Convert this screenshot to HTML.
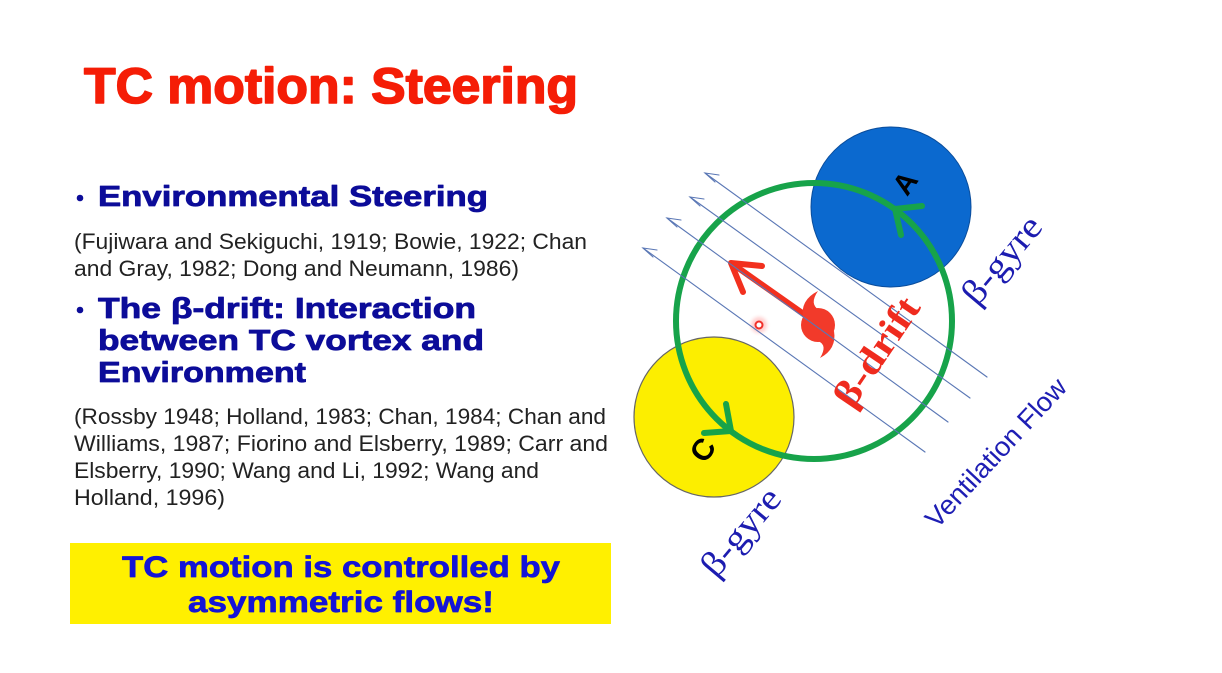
<!DOCTYPE html>
<html>
<head>
<meta charset="utf-8">
<style>
  html,body{margin:0;padding:0;background:#fff;}
  svg{display:block;}
  .sans{font-family:"Liberation Sans", Arial, sans-serif;}
  .serif{font-family:"Liberation Serif", "Times New Roman", serif;}
</style>
</head>
<body>
<svg width="1222" height="673" viewBox="0 0 1222 673" xmlns="http://www.w3.org/2000/svg">
  <defs>
    <radialGradient id="glow" cx="50%" cy="50%" r="50%">
      <stop offset="0%" stop-color="#ff5a5a" stop-opacity="0.55"/>
      <stop offset="60%" stop-color="#ff8080" stop-opacity="0.25"/>
      <stop offset="100%" stop-color="#ffffff" stop-opacity="0"/>
    </radialGradient>
  </defs>
  <rect width="1222" height="673" fill="#ffffff"/>

  <!-- Title -->
  <text class="sans" x="84" y="103" font-size="50" font-weight="bold" fill="#f51d06" stroke="#f51d06" stroke-width="1.6" stroke-linejoin="round" textLength="494" lengthAdjust="spacingAndGlyphs">TC motion: Steering</text>

  <!-- Bullet 1 -->
  <circle cx="80" cy="198" r="3.3" fill="#0c0c99"/>
  <text class="sans" x="98" y="206" font-size="29" font-weight="bold" fill="#0c0c99" stroke="#0c0c99" stroke-width="0.8" stroke-linejoin="round" textLength="390" lengthAdjust="spacingAndGlyphs">Environmental Steering</text>

  <text class="sans" x="74" y="249" font-size="22" fill="#222" textLength="513" lengthAdjust="spacingAndGlyphs">(Fujiwara and Sekiguchi, 1919; Bowie, 1922; Chan</text>
  <text class="sans" x="74" y="276" font-size="22" fill="#222" textLength="445" lengthAdjust="spacingAndGlyphs">and Gray, 1982; Dong and Neumann, 1986)</text>

  <!-- Bullet 2 -->
  <circle cx="80" cy="310" r="3.3" fill="#0c0c99"/>
  <text class="sans" x="98" y="318" font-size="29" font-weight="bold" fill="#0c0c99" stroke="#0c0c99" stroke-width="0.8" stroke-linejoin="round" textLength="378" lengthAdjust="spacingAndGlyphs">The β-drift: Interaction</text>
  <text class="sans" x="98" y="350" font-size="29" font-weight="bold" fill="#0c0c99" stroke="#0c0c99" stroke-width="0.8" stroke-linejoin="round" textLength="386" lengthAdjust="spacingAndGlyphs">between TC vortex and</text>
  <text class="sans" x="98" y="382" font-size="29" font-weight="bold" fill="#0c0c99" stroke="#0c0c99" stroke-width="0.8" stroke-linejoin="round" textLength="208" lengthAdjust="spacingAndGlyphs">Environment</text>

  <text class="sans" x="74" y="424" font-size="22" fill="#222" textLength="532" lengthAdjust="spacingAndGlyphs">(Rossby 1948; Holland, 1983; Chan, 1984; Chan and</text>
  <text class="sans" x="74" y="451" font-size="22" fill="#222" textLength="534" lengthAdjust="spacingAndGlyphs">Williams, 1987; Fiorino and Elsberry, 1989; Carr and</text>
  <text class="sans" x="74" y="478" font-size="22" fill="#222" textLength="465" lengthAdjust="spacingAndGlyphs">Elsberry, 1990; Wang and Li, 1992; Wang and</text>
  <text class="sans" x="74" y="505" font-size="22" fill="#222" textLength="151" lengthAdjust="spacingAndGlyphs">Holland, 1996)</text>

  <!-- Yellow box -->
  <rect x="70" y="543" width="541" height="81" fill="#fff000"/>
  <text class="sans" x="122" y="577" font-size="30" font-weight="bold" fill="#1414d6" stroke="#1414d6" stroke-width="0.7" stroke-linejoin="round" textLength="438" lengthAdjust="spacingAndGlyphs">TC motion is controlled by</text>
  <text class="sans" x="188" y="612" font-size="30" font-weight="bold" fill="#1414d6" stroke="#1414d6" stroke-width="0.7" stroke-linejoin="round" textLength="306" lengthAdjust="spacingAndGlyphs">asymmetric flows!</text>

  <!-- Diagram: gyres -->
  <circle cx="891" cy="207" r="80" fill="#0b69cf" stroke="#0a4d9c" stroke-width="1"/>
  <circle cx="714" cy="417" r="80" fill="#fcee00" stroke="#666" stroke-width="1.2"/>

  <text class="sans" transform="translate(905,183) rotate(-55)" x="0" y="10" text-anchor="middle" font-size="29" font-weight="bold" fill="#000">A</text>
  <text class="sans" transform="translate(703,450) rotate(-55)" x="0" y="10" text-anchor="middle" font-size="30" font-weight="bold" fill="#000">C</text>

  <!-- Red beta drift arrow and TC symbol -->
  <circle cx="759" cy="325" r="12" fill="url(#glow)"/>
  <circle cx="759" cy="325" r="3.5" fill="#fff" stroke="#f0302a" stroke-width="2"/>

  <g stroke="#f2301e" stroke-width="6" stroke-linecap="round" stroke-linejoin="round" fill="none">
    <line x1="815" y1="322" x2="734" y2="265"/>
    <polyline points="762,266 731,263 743,292"/>
  </g>
  <circle cx="818" cy="325" r="17" fill="#f23a2a"/>
  <path d="M803 318 Q800 300 818 291 Q809 304 819 310 Z" fill="#f23a2a"/>
  <path d="M834 331 Q837 349 820 358 Q828 345 818 341 Z" fill="#f23a2a"/>

  <!-- Green circulation -->
  <circle cx="814" cy="321" r="138" fill="none" stroke="#17a34a" stroke-width="6"/>
  <g stroke="#17a34a" stroke-width="6" stroke-linecap="round" stroke-linejoin="round" fill="none">
    <polyline points="922,206 895,209 901,235"/>
    <polyline points="726,404 731,431 704,433"/>
  </g>

  <!-- Ventilation flow lines -->
  <g stroke="#5a77b5" stroke-width="1.1" fill="none" stroke-linecap="round">
    <line x1="705" y1="173" x2="987" y2="377"/>
    <polyline points="715,182 705,173 719,175"/>
    <line x1="690" y1="197" x2="970" y2="398"/>
    <polyline points="700,206 690,197 704,199"/>
    <line x1="667" y1="218" x2="948" y2="422"/>
    <polyline points="677,227 667,218 681,220"/>
    <line x1="643" y1="248" x2="925" y2="452"/>
    <polyline points="653,257 643,248 657,250"/>
  </g>

  <!-- Labels -->
  <text class="serif" transform="translate(877,352) rotate(-56)" x="0" y="12" text-anchor="middle" font-size="38" font-weight="bold" fill="#ef2b1e" textLength="124" lengthAdjust="spacingAndGlyphs">β-drift</text>
  <text class="serif" transform="translate(1003,261) rotate(-50)" x="0" y="10" text-anchor="middle" font-size="36" fill="#1c1cb0" textLength="104" lengthAdjust="spacingAndGlyphs">β-gyre</text>
  <text class="serif" transform="translate(742,533) rotate(-50)" x="0" y="10" text-anchor="middle" font-size="36" fill="#1c1cb0" textLength="104" lengthAdjust="spacingAndGlyphs">β-gyre</text>
  <text class="sans" transform="translate(996,453) rotate(-47)" x="0" y="9" text-anchor="middle" font-size="27" fill="#1e1eb4" textLength="193" lengthAdjust="spacingAndGlyphs">Ventilation Flow</text>
</svg>
</body>
</html>
